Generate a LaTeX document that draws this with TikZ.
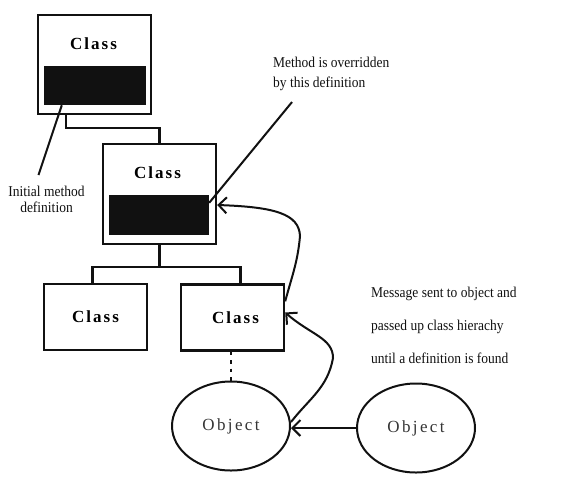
\documentclass[tikz,border=0pt]{standalone}
\usepackage{fontspec}
\setmainfont{Liberation Serif}
\newfontfamily\capfont[LetterSpace=12]{Liberation Serif}
\newfontfamily\objfont[LetterSpace=14]{Liberation Serif}
\newfontfamily\notefont[FakeStretch=0.9]{Liberation Serif}
\usetikzlibrary{arrows.meta, shapes.geometric}
\definecolor{Ink}{HTML}{111111}

\begin{document}
\begin{tikzpicture}[
  x=1pt, y=1pt,
  classbox/.style={draw=Ink, line width=2.4pt, minimum width=113pt, minimum height=99pt, inner sep=0pt},
  leafbox/.style={classbox, minimum width=103pt, minimum height=66pt, font=\capfont\bfseries\fontsize{17}{20}\selectfont},
  methbar/.style={fill=Ink, minimum width=102pt, minimum height=39pt, inner sep=0pt},
  captxt/.style={inner sep=0pt, font=\capfont\bfseries\fontsize{17}{20}\selectfont},
  objnode/.style={ellipse, draw=Ink, line width=2pt, minimum width=118pt, minimum height=89pt, inner sep=0pt, font=\objfont\fontsize{17}{20}\selectfont, text=Ink!85},
  note/.style={inner sep=0pt, font=\notefont\fontsize{15}{20}\selectfont, text=Ink},
  link/.style={draw=Ink, line width=2.2pt},
  msg/.style={draw=Ink, line width=2pt, -{Straight Barb[length=8pt, width=16pt]}}
]
\path[use as bounding box, fill=white] (0,0) rectangle (561,-498);

% class hierarchy
\node[classbox] (top) at (94.5,-64.5) {};
\node[methbar] (topbar) at (95,-85.5) {};
\node[captxt] (topcap) at ([xshift=-1pt,yshift=-30pt]top.north) {Class};
\node[classbox, minimum height=100pt] (mid) at (159.5,-194) {};
\node[methbar, minimum width=100pt, minimum height=40pt] (midbar) at (159,-215) {};
\node[captxt] (midcap) at ([xshift=-2pt,yshift=-30pt]mid.north) {Class};
\node[leafbox] (leaf1) at (95.5,-317) {Class\hspace{8pt}};
\node[leafbox] (leaf2) at (232.5,-317.5) {\hspace{6pt}Class};

% objects
\node[objnode] (obj) at (231,-426) {Object};
\node[objnode] (sender) at (416,-428) {Object};

% notes
\node[note, anchor=north, align=center, font=\notefont\fontsize{15}{16}\selectfont] (lblinit) at (46.5,-186) {Initial method\\definition};
\node[note, anchor=north west, align=left] (lblover) at (273,-57) {Method is overridden\\by this definition};
\node[note, anchor=north west, align=left, font=\notefont\fontsize{15}{33}\selectfont] (lblmsg) at (371,-287) {Message sent to object and\\passed up class hierachy\\until a definition is found};

% inheritance links
\draw[link] ([xshift=29pt]top.south west) |- ([yshift=15pt]mid.north) -- (mid.north);
\draw[link] (mid.south) -- ++(0,-22);
\draw[link] ([xshift=-3pt]leaf1.north) |- ([xshift=8pt,yshift=16pt]leaf2.north) -- ([xshift=8pt]leaf2.north);
\draw[link, dash pattern=on 3.5pt off 5pt] (obj.north |- leaf2.south) -- (obj.north);

% pointers from notes
\draw[link, line width=2pt] ([xshift=-8pt,yshift=11pt]lblinit.north) -- ([xshift=18pt]topbar.south west);
\draw[link, line width=2pt] ([xshift=19pt,yshift=-11pt]lblover.south west) -- ([yshift=-8pt]midbar.north east);

% message path
\coordinate (bend1) at (333,-358);
\coordinate (bend2) at (300,-236);
\draw[msg] (sender.west) -- (obj.east |- sender.west);
\draw[msg] ([yshift=4pt]obj.east) to[out=52,in=-100] (bend1) .. controls +(0,20) and +(25,-22) .. ([yshift=5pt]leaf2.east);
\draw[msg] ([yshift=-18pt]leaf2.north east) to[out=75,in=-95] (bend2) .. controls +(-1,22) and +(58,-2) .. ([yshift=-11pt]mid.east);
\end{tikzpicture}
\end{document}
